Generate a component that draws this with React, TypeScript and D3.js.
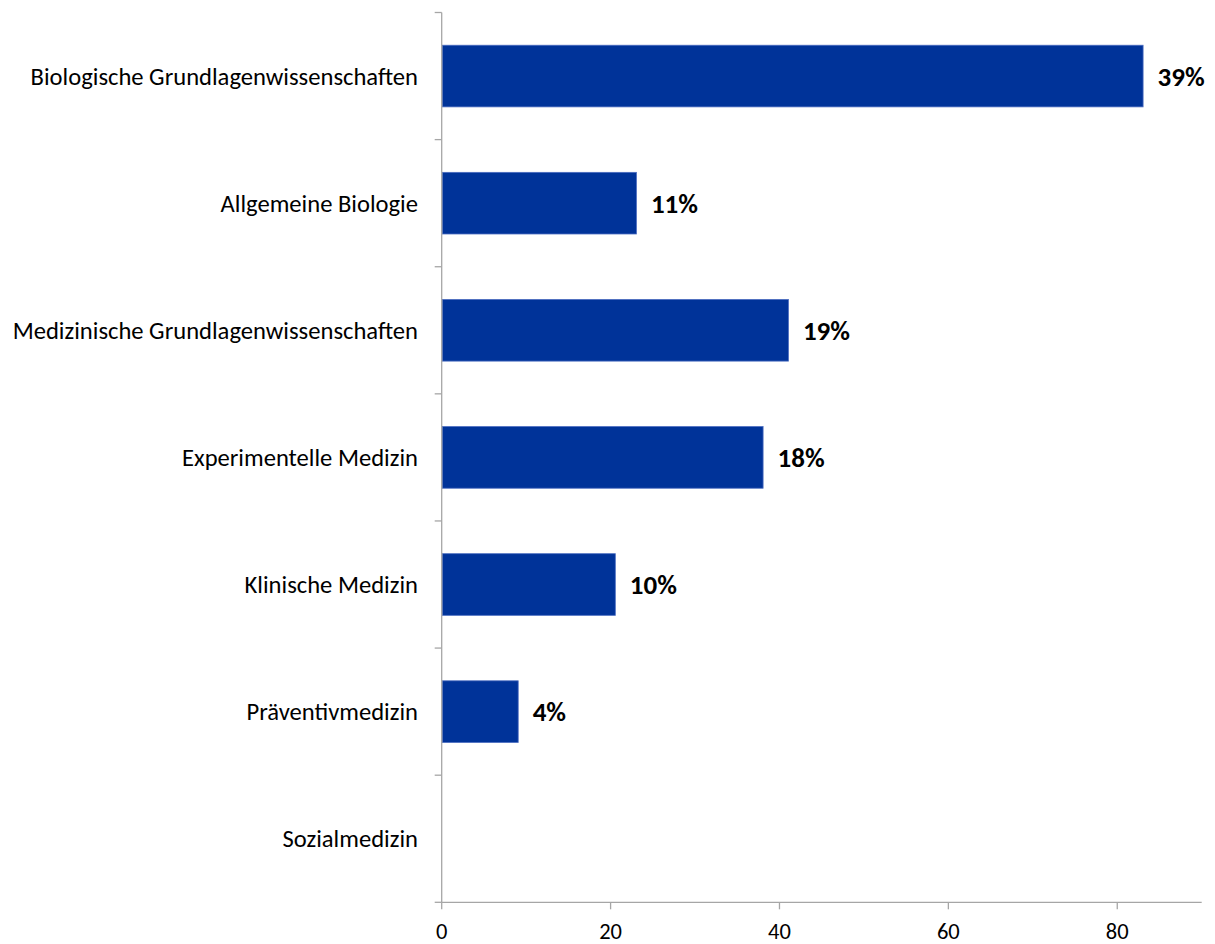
import React from "react";
import * as d3 from "d3";

const categories = [
  "Biologische Grundlagenwissenschaften",
  "Allgemeine Biologie",
  "Medizinische Grundlagenwissenschaften",
  "Experimentelle Medizin",
  "Klinische Medizin",
  "Präventivmedizin",
  "Sozialmedizin",
];
const values = [83, 23, 41, 38, 20.5, 9, 0];
const valueLabels = ["39%", "11%", "19%", "18%", "10%", "4%", ""];
const xTicks = [0, 20, 40, 60, 80];

const W = 1215;
const H = 944;
const left = 441.7;
const right = 1201.7;
const top = 12.5;
const bottom = 902.3;
const FONT = "Carlito, Calibri, Lato, 'Open Sans', sans-serif";

export default function App() {
  const x = d3.scaleLinear().domain([0, 90]).range([left, right]);
  const band = d3.scaleBand<string>().domain(categories).range([top, bottom]);
  const bw = band.bandwidth();
  const barH = bw * 0.485;
  const axisColor = "#a6a6a6";
  const boundaries = d3.range(categories.length + 1).map((i) => top + i * bw);

  return (
    <svg
      width={W}
      height={H}
      style={{ position: "absolute", left: 0, top: 0, background: "#fff" }}
      fontFamily={FONT}
    >
      {categories.map((c, i) => {
        const cy = (band(c) as number) + bw / 2;
        const w = x(values[i]) - x(0);
        return (
          <g key={c}>
            {values[i] > 0 && (
              <rect
                x={x(0) + 0.5}
                y={cy - barH / 2}
                width={w}
                height={barH}
                fill="#003399"
                stroke="#4a6cc0"
                strokeWidth={0.8}
              />
            )}
            {valueLabels[i] && (
              <text
                x={x(values[i]) + 15}
                y={cy}
                dy="0.35em"
                fontSize={27}
                fontWeight="bold"
                fill="#000"
              >
                {valueLabels[i]}
              </text>
            )}
            <text
              x={418}
              y={cy}
              dy="0.35em"
              textAnchor="end"
              fontSize={24.6}
              fill="#000"
            >
              {c}
            </text>
          </g>
        );
      })}
      <line x1={left} x2={left} y1={top} y2={bottom} stroke={axisColor} strokeWidth={1.3} />
      {boundaries.map((b, i) => (
        <line key={i} x1={left - 7} x2={left} y1={b} y2={b} stroke={axisColor} strokeWidth={1.3} />
      ))}
      <line x1={left} x2={right} y1={bottom} y2={bottom} stroke={axisColor} strokeWidth={1.3} />
      {xTicks.map((t) => (
        <g key={t}>
          <line x1={x(t)} x2={x(t)} y1={bottom} y2={bottom + 7} stroke={axisColor} strokeWidth={1.3} />
          <text x={x(t)} y={939} textAnchor="middle" fontSize={22.5} fill="#000">
            {t}
          </text>
        </g>
      ))}
    </svg>
  );
}
